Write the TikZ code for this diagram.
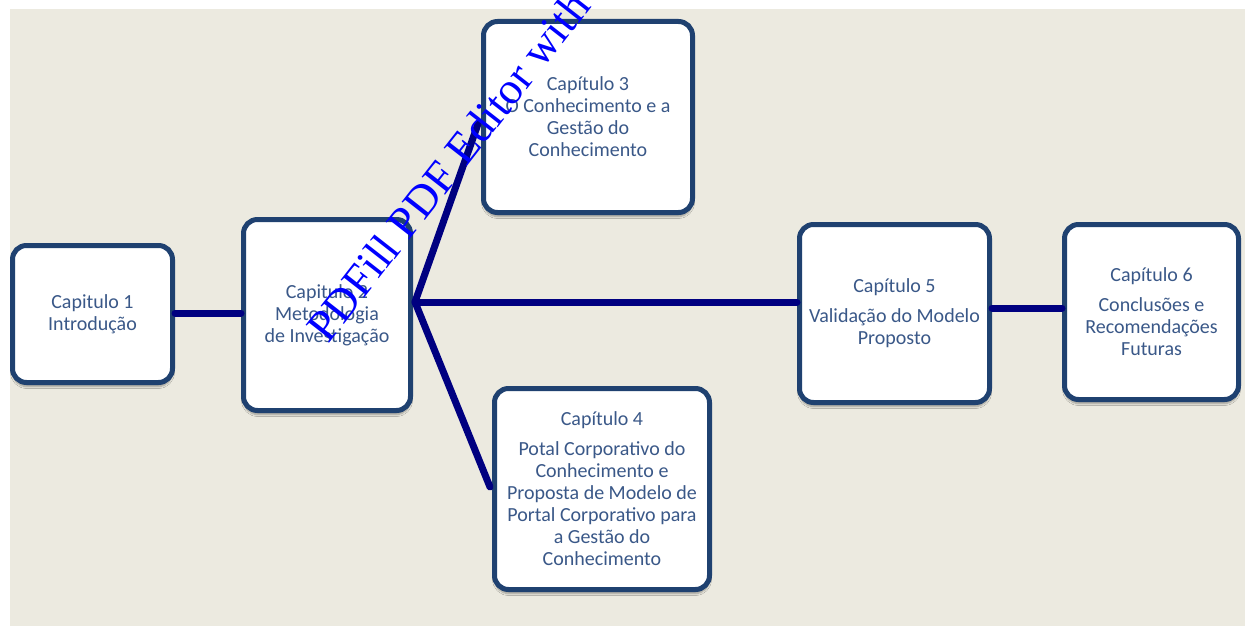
\documentclass[tikz,border=0pt]{standalone}
\usepackage{fontspec}
\setmainfont{Carlito}
\newfontfamily\wmfont{Liberation Serif}
\usetikzlibrary{shadows.blur,calc}
\definecolor{bgbeige}{HTML}{ECEAE0}
\definecolor{boxborder}{HTML}{1F4170}
\definecolor{boxtext}{HTML}{3A5888}
\definecolor{linkblue}{HTML}{000080}
\begin{document}
\begin{tikzpicture}[x=1pt,y=-1pt,
  chapbox/.style={draw=boxborder, line width=5pt, fill=white, rounded corners=14pt,
    align=center, text=boxtext, font=\fontsize{20}{22}\selectfont, inner sep=0pt,
    blur shadow={shadow xshift=0pt, shadow yshift=-4pt, shadow blur steps=6, shadow opacity=35}},
  link/.style={draw=linkblue, line width=7pt, line cap=round}]
\useasboundingbox (0,0) rectangle (1245,626);
\fill[white] (0,0) rectangle (1245,626);
\fill[bgbeige] (10,9) rectangle (1245,626);

\node[chapbox, minimum width=160pt, minimum height=137pt] (b1) at (92.5,314) {Capitulo 1\\Introdução};
\node[chapbox, minimum width=167pt, minimum height=191pt] (b2) at (327,315) {Capitulo 2\\Metodologia\\de Investigação};
\node[chapbox, minimum width=209pt, minimum height=191pt] (b3) at (588,117) {Capítulo 3\\O Conhecimento e a\\Gestão do\\Conhecimento};
\node[chapbox, minimum width=215pt, minimum height=201pt] (b4) at (602,489) {Capítulo 4\\[8pt]Potal Corporativo do\\Conhecimento e\\Proposta de Modelo de\\Portal Corporativo para\\a Gestão do\\Conhecimento};
\node[chapbox, minimum width=190pt, minimum height=178pt] (b5) at (894.5,313.5) {Capítulo 5\\[8pt]Validação do Modelo\\Proposto};
\node[chapbox, minimum width=174pt, minimum height=175pt] (b6) at (1151.5,312) {Capítulo 6\\[8pt]Conclusões e\\Recomendações\\Futuras};

\coordinate (hub) at (415,302);
\coordinate (e3) at (478,124);
\coordinate (e4) at (490,487);

\draw[link] ($(b1.east)+(0,-1)$) -- ($(b2.west)+(0,-2)$);
\draw[link] (hub) -- (e3);
\draw[link] (hub) -- (e4);
\draw[link] (hub) -- (hub -| b5.west);
\draw[link] ($(b5.east)+(0,-5.5)$) -- ($(b6.west)+(0,-4)$);

\begin{scope}
\clip (0,0) rectangle (1245,626);
\node[anchor=base west, rotate=52, text=blue, font=\wmfont\fontsize{45}{45}\selectfont, inner sep=0pt] (wm) at (328,345) {PDFill PDF Editor with};
\end{scope}
\end{tikzpicture}
\end{document}
